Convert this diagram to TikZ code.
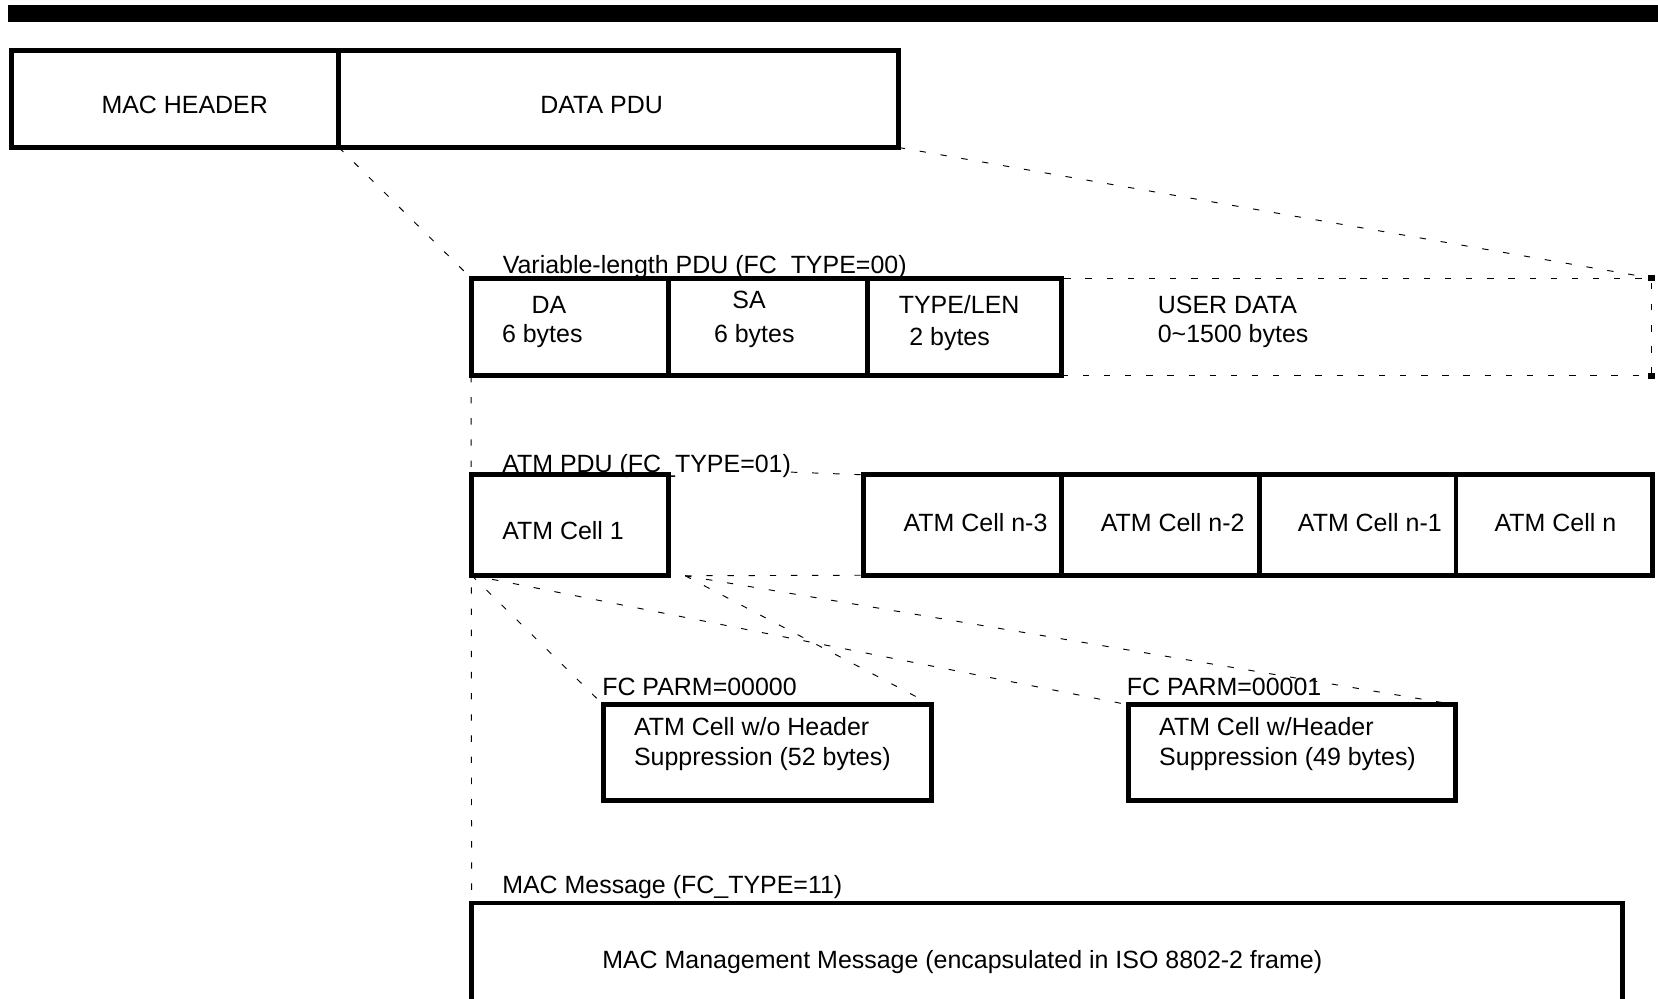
\documentclass[tikz,border=0pt]{standalone}
\usepackage{fontspec}
\setmainfont{Liberation Sans}
\usetikzlibrary{fit}
\begin{document}
\begin{tikzpicture}[x=0.5pt,y=-0.5pt,
  box/.style={draw=black, line width=2.3pt, inner sep=0pt, outer sep=0pt},
  dbox/.style={draw=black, line width=0.45pt, dash pattern=on 3pt off 7pt, inner sep=0pt, outer sep=0pt},
  lbl/.style={inner sep=0pt, outer sep=0pt, anchor=base west, font=\fontsize{11.8}{14}\selectfont},
  dashln/.style={draw=black, line width=0.45pt, dash pattern=on 3pt off 7pt},
  ]
\useasboundingbox (0,0) rectangle (1568,944);
\clip (0,0) rectangle (1568,944);

% top bar
\node[fill=black, inner sep=0pt, outer sep=0pt, fit={(8,4.7)(1568,20.8)}] (bar) {};

% MAC frame
\node[box, fit={(11,48)(320.5,139.5)}] (mh) {};
\node[box, fit={(320.5,48)(850,139.5)}] (dp) {};
\node[lbl] (mht) at (96,107.5) {MAC HEADER};
\node[lbl] (dpt) at (511,107.5) {DATA PDU};

% Variable-length PDU
\node[box, fit={(445.5,263)(632,355.5)}] (da) {};
\node[box, fit={(632,263)(820,355.5)}] (sa) {};
\node[box, fit={(820,263)(1004,355.5)}] (tl) {};
\node[dbox, fit={(1004,263)(1562,355.5)}] (ud) {};
\fill (ud.north east) ++(-3.5,-2.8) rectangle ++(7,5.6);
\fill (ud.south east) ++(-3.5,-2.8) rectangle ++(7,5.6);
\node[lbl] (vl) at (475.5,259) {Variable-length PDU (FC\_TYPE=00)};
\node[lbl] (dat) at (502.7,296.3) {DA};
\node[lbl] (dab) at (474.8,323.5) {6 bytes};
\node[lbl] (sat) at (692.6,292) {SA};
\node[lbl] (sab) at (675.3,323.5) {6 bytes};
\node[lbl] (tlt) at (850,296.3) {TYPE/LEN};
\node[lbl] (tlb) at (860,326.3) {2 bytes};
\node[lbl] (udt) at (1095,296.3) {USER DATA};
\node[lbl] (udb) at (1095,323.5) {0\textasciitilde1500 bytes};

% ATM PDU
\node[box, fit={(445.8,449)(632.4,544)}] (c1) {};
\node[box, fit={(816.6,449)(1004,544)}] (cn3) {};
\node[box, fit={(1004,449)(1191,544)}] (cn2) {};
\node[box, fit={(1191,449)(1377,544)}] (cn1) {};
\node[box, fit={(1377,449)(1563,544)}] (cn) {};
\node[lbl] (atml) at (475,446.5) {ATM PDU (FC\_TYPE=01)};
\node[lbl] (c1t) at (475,510) {ATM Cell 1};
\node[lbl] (cn3t) at (854.6,503) {ATM Cell n-3};
\node[lbl] (cn2t) at (1041,503) {ATM Cell n-2};
\node[lbl] (cn1t) at (1227.5,503) {ATM Cell n-1};
\node[lbl] (cnt) at (1413.5,503) {ATM Cell n};

% FC PARM cells
\node[box, fit={(570.5,666.5)(881,756.7)}] (fc0) {};
\node[box, fit={(1067,666.5)(1376.5,756.7)}] (fc1) {};
\node[lbl] (fc0l) at (569.6,657.3) {FC PARM=00000};
\node[lbl] (fc1l) at (1065.7,657.3) {FC PARM=00001};
\node[lbl] (fc0a) at (599.6,695.1) {ATM Cell w/o Header};
\node[lbl] (fc0b) at (599.6,723.5) {Suppression (52 bytes)};
\node[lbl] (fc1a) at (1096.3,695.1) {ATM Cell w/Header};
\node[lbl] (fc1b) at (1096.3,723.5) {Suppression (49 bytes)};

% MAC message
\node[box, fit={(446,854)(1534,990)}] (mac) {};
\node[lbl] (macl) at (475,844.8) {MAC Message (FC\_TYPE=11)};
\node[lbl] (mact) at (569.6,916) {MAC Management Message (encapsulated in ISO 8802-2 frame)};

% connectors
\coordinate (fo) at (648,544.5);
\draw[dashln] (mh.south east) -- (da.north west);
\draw[dashln] (dp.south east) -- (ud.north east);
\draw[dashln] (da.south west) -- (mac.north west);
\draw[dashln] (atml.base east) -- (cn3.north west);
\draw[dashln] (fo) -- (cn3.south west);
\draw[dashln] (c1.south west) -- (fc0.north west);
\draw[dashln] (c1.south west) -- (fc1.north west);
\draw[dashln] (fo) -- (fc0.north east);
\draw[dashln] (fo) -- (fc1.north east);
\end{tikzpicture}
\end{document}
